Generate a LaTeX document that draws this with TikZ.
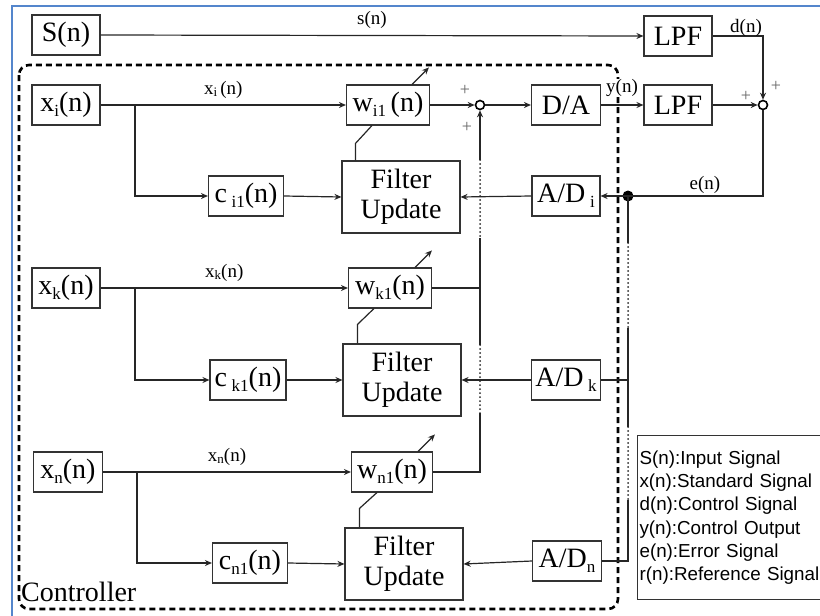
\documentclass[tikz,border=0pt]{standalone}
\usepackage{fontspec}
\setmainfont{Liberation Serif}
\newfontfamily\legendfont{Liberation Sans}
\usetikzlibrary{arrows.meta,calc}
\definecolor{framecol}{RGB}{84,134,204}
\newcommand{\lsub}[1]{\raisebox{-0.35ex}{\fontsize{17}{17}\selectfont #1}}
\newcommand{\ssub}[1]{\raisebox{-0.3ex}{\fontsize{13}{13}\selectfont #1}}
\tikzset{
  block/.style={draw=black!80, line width=1.1pt, fill=white, inner sep=0pt, font=\fontsize{28}{30}\selectfont, align=center, minimum height=40pt},
  upd/.style={block, minimum width=118pt, minimum height=72pt},
  sumpt/.style={circle, draw=black, line width=1.6pt, fill=white, inner sep=0pt, minimum size=9pt},
  joint/.style={circle, fill=black, inner sep=0pt, minimum size=11pt},
  wire/.style={line width=1.2pt, draw=black!85},
  flow/.style={wire, -{Stealth[length=7pt, width=6pt]}},
  dotwire/.style={line width=2pt, draw=black!85, line cap=round, dash pattern=on 0pt off 4pt},
  ctrlbox/.style={line width=2.6pt, dash pattern=on 6pt off 4pt, rounded corners=10pt},
  siglabel/.style={font=\fontsize{19}{19}\selectfont, inner sep=0pt},
  pluslabel/.style={font=\fontsize{18}{18}\selectfont, text=black!60, inner sep=0pt},
  legendbox/.style={draw=black!80, line width=1.1pt, inner xsep=2pt, inner ysep=0pt, align=left, font=\legendfont\fontsize{18.8}{23.3}\selectfont},
}

\begin{document}
\begin{tikzpicture}[x=1pt, y=-1pt]
\useasboundingbox (0,0) rectangle (820,616);
\draw[framecol, line width=2pt] (12,616) -- (12,6) -- (820,6);
\draw[ctrlbox] (19,65) rectangle (618,609);

\node[block, minimum width=68pt] (src) at (66,35) {S(n)};
\node[block, minimum width=68pt] (lpfa) at (678,36) {LPF};
\node[block, minimum width=68pt] (lpfb) at (678,105) {LPF};
\node[block, minimum width=69pt] (da) at (566,105) {D/A};
\node[sumpt] (sumr) at (763,105) {};
\node[sumpt] (suml) at (480,105) {};

\node[block, minimum width=68pt] (xi) at (66,105) {x\lsub{i}(n)};
\node[block, minimum width=83pt] (wi) at (388,105) {w\lsub{i1}\,(n)};
\node[block, minimum width=75pt] (ci) at (246,196) {c\,\lsub{i1}(n)};
\node[upd] (fui) at (401,197) {Filter\\Update};
\node[block, minimum width=68pt] (adi) at (566,196) {A/D\,\lsub{i}};

\node[block, minimum width=68pt] (xk) at (66,288) {x\lsub{k}(n)};
\node[block, minimum width=83pt] (wk) at (390,288) {w\lsub{k1}(n)};
\node[block, minimum width=76pt] (ck) at (248,380) {c\,\lsub{k1}(n)};
\node[upd] (fuk) at (402,380) {Filter\\Update};
\node[block, minimum width=69pt] (adk) at (566,380) {A/D\,\lsub{k}};

\node[block, minimum width=69pt] (xn) at (68,472) {x\lsub{n}(n)};
\node[block, minimum width=81pt] (wn) at (392,472) {w\lsub{n1}(n)};
\node[block, minimum width=75pt] (cn) at (250,563) {c\lsub{n1}(n)};
\node[upd] (fun) at (404,564) {Filter\\Update};
\node[block, minimum width=69pt] (adn) at (567,561) {A/D\lsub{n}};

\node[legendbox, minimum height=164pt, text width=200pt, anchor=north west] (legend) at (637,435)
  {S(n):Input Signal\\x(n):Standard Signal\\d(n):Control Signal\\y(n):Control Output\\e(n):Error Signal\\r(n):Reference Signal};
\node[font=\fontsize{28}{30}\selectfont, anchor=base west, inner sep=0pt] (ctrlname) at (21,601) {Controller};

\draw[flow] (src.east) -- (lpfa.west) node[siglabel, midway, above=6pt] {s(n)};
\draw[flow] (lpfa.east) -| (sumr.north);
\node[siglabel] (dlab) at (746,28) {d(n)};
\draw[flow] (lpfb.east) -- (sumr.west);
\draw[flow] (da.east) -- (lpfb.west);
\node[siglabel, fill=white] (ylab) at (622,88) {y(n)};
\draw[flow] (suml.east) -- (da.west);
\draw[flow] (wi.east) -- (suml.west);
\node[pluslabel] (p1) at (465,90) {+};
\node[pluslabel] (p2) at (467,127) {+};
\node[pluslabel] (p3) at (746,96) {+};
\node[pluslabel] (p4) at (776,86) {+};

\node[joint] (dot) at (628,196) {};
\draw[wire] (sumr.south) |- (dot.center);
\node[siglabel] (elab) at (705,185) {e(n)};
\draw[flow] (dot.center) -- (adi.east);

\draw[flow] (xi.east) -- (wi.west) node[siglabel, midway, above=6pt] {x\ssub{i}\,(n)};
\coordinate (bi) at (135,105);
\draw[flow] (bi) |- (ci.west);
\draw[flow] (ci.east) -- (fui.west);
\draw[flow] (adi.west) -- (fui.east);
\draw[wire] ($(fui.north west)+(14,0)$) -- ++(0,-17) -- ($(wi.south west)+(26,0)$);
\draw[flow] ($(wi.north west)+(66,0)$) -- ++(17,-17);

\draw[flow] (xk.east) -- (wk.west) node[siglabel, midway, above=6pt] {x\ssub{k}(n)};
\coordinate (bk) at (135,288);
\draw[flow] (bk) |- (ck.west);
\draw[flow] (ck.east) -- (fuk.west);
\draw[flow] (adk.west) -- (fuk.east);
\draw[wire] ($(fuk.north west)+(15,0)$) -- ++(0,-19) -- ($(wk.south west)+(26,0)$);
\draw[flow] ($(wk.north west)+(67,0)$) -- ++(17,-17);

\draw[flow] (xn.east) -- (wn.west) node[siglabel, midway, above=6pt] {x\ssub{n}(n)};
\coordinate (bn) at (137,472);
\draw[flow] (bn) |- (cn.west);
\draw[flow] (cn.east) -- (fun.west);
\draw[flow] (adn.west) -- (fun.east);
\draw[wire] ($(fun.north west)+(15,0)$) -- ++(0,-19) -- ($(wn.south west)+(26,0)$);
\draw[flow] ($(wn.north west)+(67,0)$) -- ++(17,-17);

\coordinate (ca) at (480,160);
\coordinate (cb) at (480,238);
\coordinate (cc) at (480,345);
\coordinate (cd) at (480,413);
\draw[flow] (ca) -- (suml.south);
\draw[dotwire] (ca) -- (cb);
\draw[wire] (cb) -- (cc);
\draw[wire] (wk.east) -- (wk.east -| cb);
\draw[dotwire] (cc) -- (cd);
\draw[wire] (wn.east) -| (cd);

\coordinate (ra) at (628,243);
\coordinate (rb) at (628,328);
\coordinate (rc) at (628,427);
\coordinate (rd) at (628,500);
\draw[wire] (dot.center) -- (ra);
\draw[dotwire] (ra) -- (rb);
\draw[wire] (rb) -- (rc);
\draw[wire] (adk.east) -- (adk.east -| rb);
\draw[dotwire] (rc) -- (rd);
\draw[wire] (rd) |- (adn.east);
\end{tikzpicture}
\end{document}
